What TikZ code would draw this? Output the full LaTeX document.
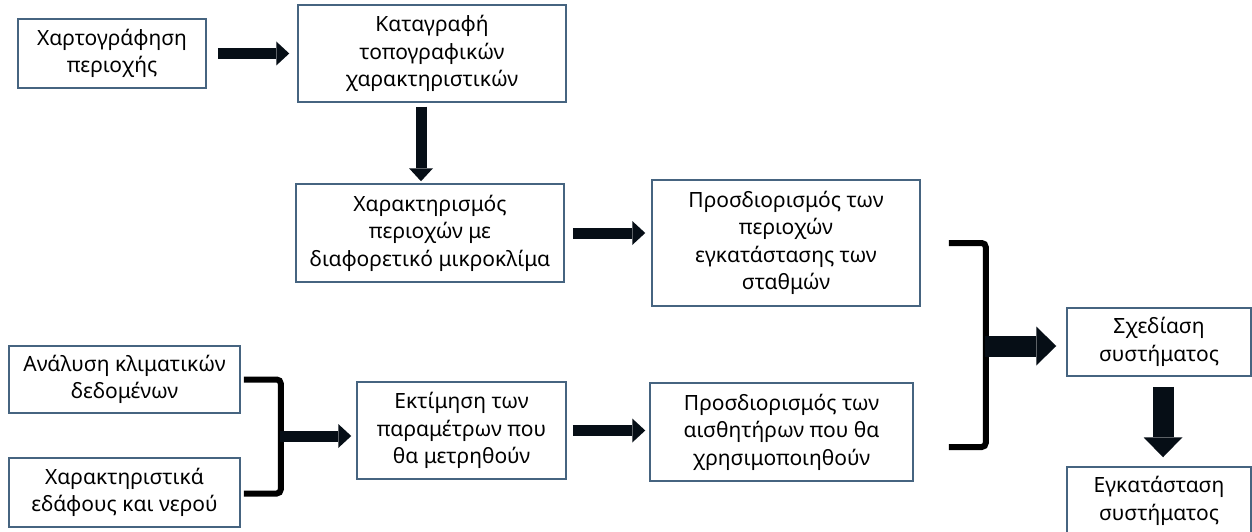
\documentclass[tikz,border=0pt]{standalone}
\usepackage{fontspec}
\setmainfont{Noto Sans}
\usetikzlibrary{arrows.meta, calc, positioning}
\definecolor{boxblue}{RGB}{70,100,128}
\definecolor{arrowdark}{RGB}{6,14,22}

\begin{document}
\begin{tikzpicture}[x=1pt, y=-1pt, font=\fontsize{21}{27.5}\selectfont]
	\tikzstyle{box} = [draw=boxblue, line width=1.5pt, align=center, inner sep=0pt]
	\tikzstyle{fat} = [draw=arrowdark, line width=11pt, -{Triangle[length=13pt, width=24pt, line width=0pt]}]
	\tikzstyle{bigfat} = [draw=arrowdark, line width=21pt, -{Triangle[length=20pt, width=39pt, line width=0pt]}]
	\tikzstyle{brace} = [draw=black, line width=6pt, rounded corners=4pt]

	\useasboundingbox (0,0) rectangle (1252,532);

	% upper branch
	\node[box, minimum width=188pt, minimum height=69pt] (carto) at (112,53.5) {Χαρτογράφηση\\περιοχής};
	\node[box, minimum width=268pt, minimum height=97pt] (katag) at (432,53.5) {Καταγραφή\\τοπογραφικών\\χαρακτηριστικών};
	\node[box, minimum width=268pt, minimum height=98pt] (xarakt) at (430,233) {Χαρακτηρισμός\\περιοχών με\\διαφορετικό μικροκλίμα};
	\node[box, minimum width=268pt, minimum height=126pt] (stathmoi) at (786,243) {Προσδιορισμός των\\περιοχών\\εγκατάστασης των\\σταθμών};

	% lower branch
	\node[box, minimum width=231pt, minimum height=67pt] (klima) at (124.5,379.5) {Ανάλυση κλιματικών\\δεδομένων};
	\node[box, minimum width=231pt, minimum height=69pt] (edafos) at (124.5,492.5) {Χαρακτηριστικά\\εδάφους και νερού};
	\node[box, minimum width=209pt, minimum height=97pt] (ektim) at (461.5,430.5) {Εκτίμηση των\\παραμέτρων που\\θα μετρηθούν};
	\node[box, minimum width=263pt, minimum height=98pt] (aisth) at (781.5,432) {Προσδιορισμός των\\αισθητήρων που θα\\χρησιμοποιηθούν};

	% system
	\node[box, minimum width=184pt, minimum height=68pt] (sxed) at (1159,342) {Σχεδίαση\\συστήματος};
	\node[box, minimum width=184pt, minimum height=68pt] (egk) at (1159,501) {Εγκατάσταση\\συστήματος};

	% brackets
	\draw[brace] ([xshift=3pt]klima.east) -- ++(37,0) -- ++(0,114) -- ++(-37,0);
	\coordinate (br1) at (280,436);
	\draw[brace] ([xshift=28pt]stathmoi.east) -- ++(37,0) -- ++(0,204) -- ++(-37,0);
	\coordinate (br2) at (985,346);

	% arrows
	\draw[fat, shorten <=11pt, shorten >=8pt] (carto.east) -- (katag.west);
	\draw[fat, shorten <=4pt, shorten >=2pt] ([xshift=-11pt]katag.south) -- ([xshift=-9pt]xarakt.north);
	\draw[fat, shorten <=8pt, shorten >=6pt] (xarakt.east) -- (xarakt.east -| stathmoi.west);
	\draw[fat, shorten >=5pt] (br1) -- (br1 -| ektim.west);
	\draw[fat, shorten <=6pt, shorten >=4pt] (ektim.east) -- (ektim.east -| aisth.west);
	\draw[bigfat, shorten >=10pt] (br2) -- (br2 -| sxed.west);
	\draw[bigfat, shorten <=10pt, shorten >=9pt] ([xshift=4pt]sxed.south) -- ([xshift=4pt]egk.north);
\end{tikzpicture}
\end{document}
